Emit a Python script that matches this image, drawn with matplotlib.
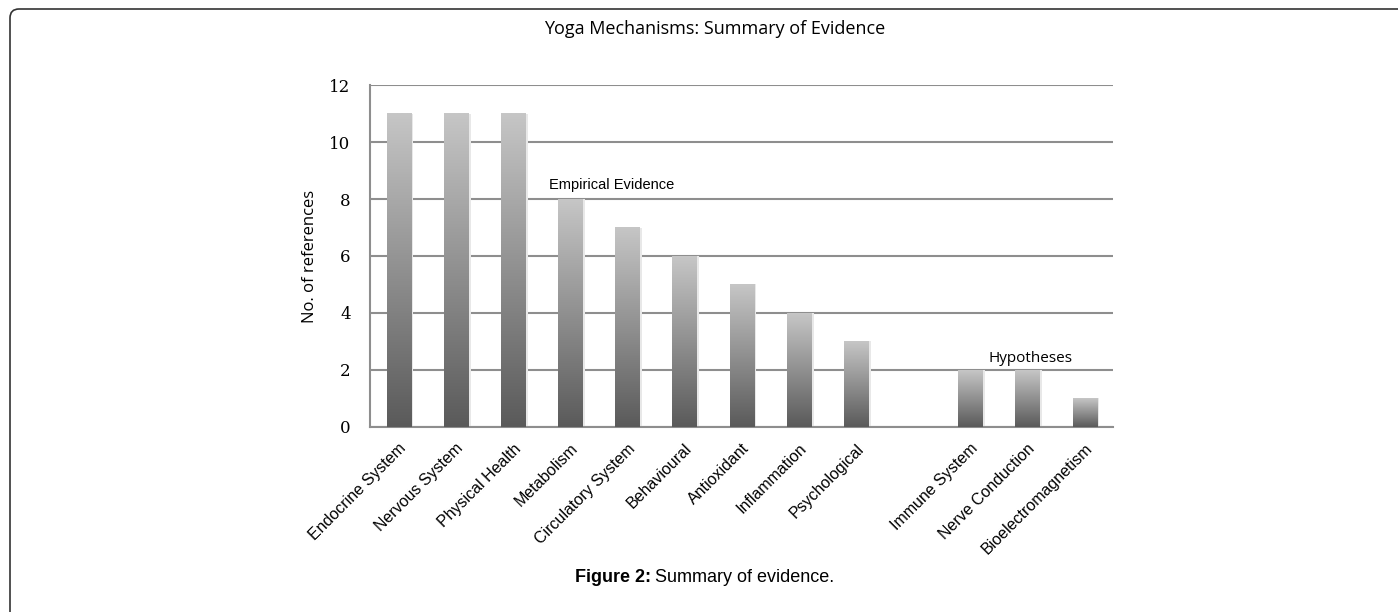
import numpy as np
import matplotlib
matplotlib.use('Agg')
import matplotlib.pyplot as plt
from matplotlib.colors import LinearSegmentedColormap
from matplotlib.path import Path
from matplotlib.patches import PathPatch

# data (blank slot separates evidence from hypotheses)
categories = ['Endocrine System', 'Nervous System', 'Physical Health', 'Metabolism',
              'Circulatory System', 'Behavioural', 'Antioxidant', 'Inflammation',
              'Psychological', '', 'Immune System', 'Nerve Conduction',
              'Bioelectromagnetism']
values = [11, 11, 11, 8, 7, 6, 5, 4, 3, 0, 2, 2, 1]
yticks = [0, 2, 4, 6, 8, 10, 12]

W, H = 1398, 612
fig = plt.figure(figsize=(W / 100, H / 100), dpi=100)
ax = fig.add_axes([0.2647, 0.3023, 0.5315, 0.5588])

cmap = LinearSegmentedColormap.from_list('bar', ['#5a5a5a', '#c6c6c6'])
grad = np.linspace(0, 1, 256).reshape(-1, 1)
width = 0.42

x = np.arange(len(categories))
for i, v in zip(x, values):
    if v <= 0:
        continue
    # faint shadow on the right side
    ax.bar(i + 0.05, v, width=width, color='#e8e8e8', zorder=2)
    ax.imshow(grad, cmap=cmap, origin='lower', aspect='auto',
              extent=[i - width / 2, i + width / 2, 0, v], zorder=3)

ax.set_xlim(-0.5, len(categories) - 0.5)
ax.set_ylim(0, 12)
ax.set_yticks(yticks)
ax.yaxis.grid(True, color='#8e8e8e', linewidth=1.5)
ax.set_axisbelow(True)
ax.tick_params(length=0)
ax.set_yticklabels([str(t) for t in yticks], family='DejaVu Serif', fontsize=12)
ax.tick_params(axis='y', pad=14)

ax.set_xticks(x)
ax.set_xticklabels(categories, rotation=45, ha='right', rotation_mode='anchor',
                   family='Liberation Sans', fontsize=11.5)
ax.tick_params(axis='x', pad=10)

for s in ['top', 'right']:
    ax.spines[s].set_visible(False)
for s in ['left', 'bottom']:
    ax.spines[s].set_color('#8e8e8e')
    ax.spines[s].set_linewidth(1.5)

ax.set_ylabel('No. of references', family='Open Sans', fontsize=12, labelpad=8)

ax.text(3.72, 8.5, 'Empirical Evidence', family='Liberation Sans', fontsize=10.5,
        ha='center', va='center')
ax.text(11.05, 2.4, 'Hypotheses', family='Open Sans', fontsize=11,
        ha='center', va='center')

fig.text(0.511, 0.952, 'Yoga Mechanisms: Summary of Evidence', family='Open Sans',
         fontsize=13, ha='center', va='center')

# caption: bold label followed by plain text
cap1 = fig.text(575 / W, 1 - 577 / H, 'Figure 2:', family='Liberation Sans',
                weight='bold', fontsize=13, ha='left', va='center')
fig.canvas.draw()
bb = cap1.get_window_extent()
fig.text((bb.x1 + 4) / W, 1 - 577 / H, 'Summary of evidence.',
         family='Liberation Sans', fontsize=13, ha='left', va='center')

# page frame: left and top edges with a rounded corner, in pixels
x0, y0, r = 10, H - 9, 9
verts = [(x0, -10), (x0, y0 - r), (x0, y0), (x0 + r, y0), (W + 10, y0)]
codes = [Path.MOVETO, Path.LINETO, Path.CURVE3, Path.CURVE3, Path.LINETO]
fig.patches.append(PathPatch(Path(verts, codes), transform=None, fill=False,
                             edgecolor='#333333', linewidth=1.2))

fig.savefig('out.png', dpi=100)
